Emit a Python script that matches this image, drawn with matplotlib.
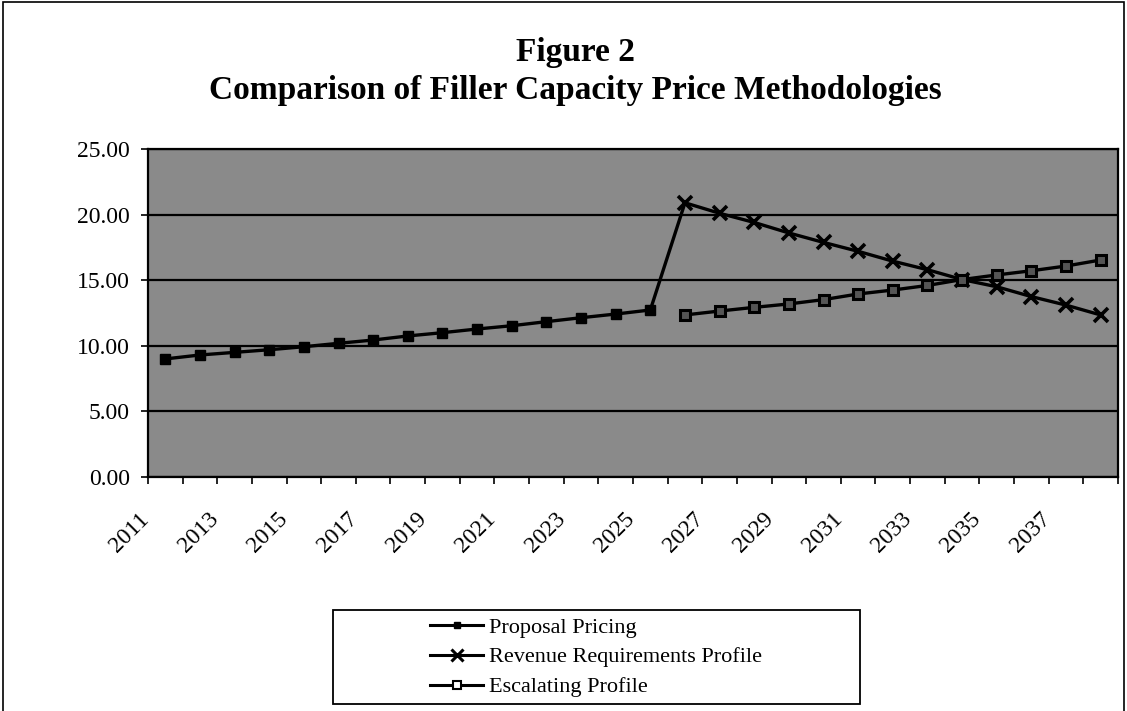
import matplotlib
matplotlib.use("Agg")
import matplotlib.pyplot as plt
import numpy as np
from matplotlib.lines import Line2D
from matplotlib.patches import Rectangle
from matplotlib.transforms import ScaledTranslation

plt.rcParams['font.family'] = ['Liberation Serif', 'DejaVu Serif']

years = list(range(2011, 2039))
tick_labels = [str(y) for y in range(2011, 2039, 2)]

proposal_pricing = [9.00, 9.30, 9.50, 9.70, 9.93, 10.19, 10.44, 10.75, 11.00, 11.28,
                    11.53, 11.84, 12.14, 12.42, 12.73]
# revenue requirements profile from 2025 (joins proposal pricing) to 2038
revenue_requirements = [12.73, 20.90, 20.10, 19.40, 18.60, 17.88, 17.20, 16.45, 15.80,
                        15.05, 14.50, 13.75, 13.10, 12.35]
# escalating profile from 2026 to 2038
escalating = [12.35, 12.65, 12.93, 13.19, 13.52, 13.95, 14.25, 14.60, 15.05, 15.40,
              15.72, 16.08, 16.54]

W, H = 1127, 711
fig = plt.figure(figsize=(W / 100, H / 100), dpi=100)

# outer frame
fig.patches.append(Rectangle((3 / W, -0.01), 1121 / W, 1.007, transform=fig.transFigure,
                             fill=False, edgecolor='black', linewidth=1.2))

ax = fig.add_axes([148 / W, 1 - 477 / H, (1118 - 148) / W, (477 - 149) / H])
ax.set_facecolor('#8a8a8a')

x_all = np.arange(len(years))
x_pp = x_all[:len(proposal_pricing)]
x_rr = x_all[14:14 + len(revenue_requirements)]
x_es = x_all[15:15 + len(escalating)]

ax.plot(x_pp, proposal_pricing, color='black', linewidth=2.4, marker='s',
        markersize=7.5, markerfacecolor='black', markeredgecolor='black', zorder=4)
ax.plot(x_rr, revenue_requirements, color='black', linewidth=2.4, marker='x',
        markersize=10, markeredgewidth=2.6, markevery=list(range(1, len(revenue_requirements))),
        zorder=4)
ax.plot(x_es, escalating, color='black', linewidth=2.4, marker='s',
        markersize=7.5, markerfacecolor='#555555', markeredgecolor='black',
        markeredgewidth=2.2, zorder=4)

ax.set_xlim(-0.5, len(years) - 0.5)
ax.set_ylim(0, 25)
ax.set_yticks([0, 5, 10, 15, 20, 25])
ax.set_yticklabels(['0.00', '5.00', '10.00', '15.00', '20.00', '25.00'])
ax.yaxis.grid(True, color='black', linewidth=1.6)
ax.set_axisbelow(True)

# category boundary ticks
ax.set_xticks(np.arange(-0.5, len(years), 1.0))
ax.set_xticklabels([])
ax.set_xticks(np.arange(0, len(years), 2), minor=True)
ax.set_xticklabels(tick_labels, minor=True)
ax.tick_params(axis='x', which='major', direction='out', length=5, width=1.2, color='black')
ax.tick_params(axis='x', which='minor', length=0, pad=28, labelsize=17)
ax.tick_params(axis='y', direction='out', length=5, width=1.2, pad=8, labelsize=17)

offset = ScaledTranslation(-0.19, 0, fig.dpi_scale_trans)
for lab in ax.xaxis.get_minorticklabels():
    lab.set_rotation(45)
    lab.set_rotation_mode('anchor')
    lab.set_ha('right')
    lab.set_va('center')
    lab.set_transform(lab.get_transform() + offset)

for sp in ax.spines.values():
    sp.set_color('black')
    sp.set_linewidth(1.6)

fig.text(575 / W, 1 - 52 / H, 'Figure 2', ha='center', va='center',
         fontsize=24, fontweight='bold')
fig.text(575 / W, 1 - 90 / H, 'Comparison of Filler Capacity Price Methodologies',
         ha='center', va='center', fontsize=24, fontweight='bold')

# legend
fig.patches.append(Rectangle((333 / W, 1 - 704 / H), (860 - 333) / W, (704 - 610) / H,
                             transform=fig.transFigure, fill=True, facecolor='white',
                             edgecolor='black', linewidth=1.3, zorder=1))
handles = [
    Line2D([], [], color='black', linewidth=2.2, marker='s', markersize=4,
           markerfacecolor='black'),
    Line2D([], [], color='black', linewidth=2.2, marker='x', markersize=8,
           markeredgewidth=2.2),
    Line2D([], [], color='black', linewidth=2.2, marker='s', markersize=6,
           markerfacecolor='white', markeredgewidth=1.5),
]
labels = ['Proposal Pricing', 'Revenue Requirements Profile', 'Escalating Profile']
leg = fig.legend(handles, labels, loc='upper left',
                 bbox_to_anchor=(430 / W, 1 - 617 / H), bbox_transform=fig.transFigure,
                 frameon=False, fontsize=16, handlelength=2.4, handletextpad=0.25,
                 labelspacing=0.42, borderpad=0, borderaxespad=0)
leg.set_zorder(3)

fig.savefig('out.png', dpi=100)
